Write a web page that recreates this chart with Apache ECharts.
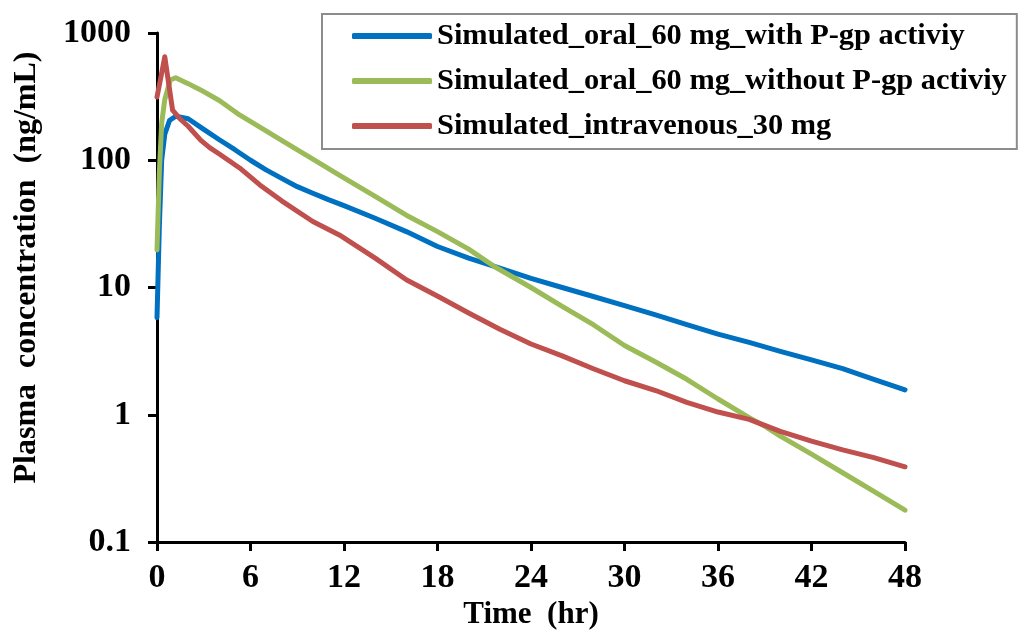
<!DOCTYPE html>
<html>
<head>
<meta charset="utf-8">
<script src="https://cdn.jsdelivr.net/npm/echarts@6/dist/echarts.min.js"></script>
<style>
  html, body { margin: 0; padding: 0; background: #fff; }
  #chart { width: 1027px; height: 632px; }
</style>
</head>
<body>
<div id="chart"></div>
<script>
// Time points (hr) and plasma concentrations (ng/mL) for each simulation
const timeOralPgp = [0, 0.15, 0.3, 0.5, 0.8, 1.2, 2, 3, 4, 5, 6, 7, 8, 9, 10, 11, 12, 14, 16, 18, 20, 22, 24, 26, 28, 30, 32, 34, 36, 38, 40, 42, 44, 46, 48];
const concOralPgp = [5.8, 30, 100, 160, 205, 222, 212, 175, 145, 121, 100, 84, 72, 62, 55, 49, 44, 35, 27.5, 21, 17, 14.2, 11.8, 10.0, 8.5, 7.2, 6.1, 5.1, 4.3, 3.7, 3.15, 2.7, 2.3, 1.9, 1.57];

const timeOralNoPgp = [0, 0.15, 0.3, 0.5, 0.85, 1.2, 2, 2.8, 4, 5.3, 6.6, 8, 10, 11.7, 14, 16, 18, 20, 21.7, 24, 26, 28, 30, 32, 34, 36, 38, 39.1, 40, 42, 44, 46, 48];
const concOralNoPgp = [19.7, 80, 196, 300, 427, 445, 400, 357, 295, 227, 182, 143, 102, 76.5, 52, 37, 27.5, 20, 14.5, 10, 7.1, 5.1, 3.5, 2.6, 1.9, 1.33, 0.95, 0.80, 0.68, 0.49, 0.35, 0.25, 0.178];

const timeIV = [0, 0.25, 0.5, 0.75, 1.0, 1.5, 2, 2.8, 3.4, 4, 5.3, 6.6, 8, 10, 11.7, 14, 16, 18.2, 20, 22, 24, 26, 28, 30, 32, 34, 36, 38, 40, 42, 44, 46, 48];
const concIV = [314, 450, 650, 400, 248, 210, 185, 144, 125, 112, 87, 64, 48, 33, 25.9, 17, 11.5, 8.3, 6.3, 4.7, 3.6, 2.9, 2.3, 1.85, 1.55, 1.25, 1.05, 0.92, 0.74, 0.62, 0.53, 0.46, 0.39];

const seriesNames = [
  'Simulated_oral_60 mg_with P-gp activiy',
  'Simulated_oral_60 mg_without P-gp activiy',
  'Simulated_intravenous_30 mg'
];
const seriesColors = ['#0070C0', '#9BBB59', '#C0504D'];

const xTicks = [0, 6, 12, 18, 24, 30, 36, 42, 48];
const yTicks = [0.1, 1, 10, 100, 1000];

const pairs = (ts, vs) => ts.map((t, i) => [t, vs[i]]);
const seriesData = [
  pairs(timeOralPgp, concOralPgp),
  pairs(timeOralNoPgp, concOralNoPgp),
  pairs(timeIV, concIV)
];

const font = '"Liberation Serif", "Times New Roman", serif';

const chart = echarts.init(document.getElementById('chart'), null, { renderer: 'canvas' });

chart.setOption({
  animation: false,
  backgroundColor: '#fff',
  grid: { left: 157, right: 122, top: 33, bottom: 90, containLabel: false, outerBoundsMode: 'none' },
  legend: {
    orient: 'vertical',
    left: 322,
    top: 14,
    padding: [7, 10, 8, 30],
    borderColor: '#8c8c8c',
    borderWidth: 2,
    backgroundColor: '#fff',
    itemWidth: 80,
    itemHeight: 6,
    itemGap: 15,
    icon: 'roundRect',
    data: seriesNames,
    textStyle: {
      fontFamily: font,
      fontWeight: 'bold',
      fontSize: 30.4,
      lineHeight: 30,
      color: '#000',
      padding: [0, 0, 0, 0]
    }
  },
  xAxis: {
    type: 'value',
    min: 0,
    max: 48,
    interval: 6,
    name: 'Time  (hr)',
    nameLocation: 'middle',
    nameGap: 56,
    nameTextStyle: { fontFamily: font, fontWeight: 'bold', fontSize: 31, color: '#000' },
    axisLine: { show: true, onZero: false, lineStyle: { color: '#000', width: 3 } },
    axisTick: { show: true, inside: false, length: 9, lineStyle: { color: '#000', width: 3 } },
    axisLabel: {
      margin: 19,
      fontFamily: font, fontWeight: 'bold', fontSize: 34, color: '#000',
      formatter: v => (xTicks.includes(v) ? String(v) : '')
    },
    splitLine: { show: false }
  },
  yAxis: {
    type: 'log',
    logBase: 10,
    min: 0.1,
    max: 1000,
    name: 'Plasma  concentration  (ng/mL)',
    nameLocation: 'middle',
    nameGap: 114,
    nameTextStyle: {
      fontFamily: font, fontWeight: 'bold', fontSize: 32, color: '#000',
      // lift the title a little above the axis centre
      padding: [0, 0, 0, 40]
    },
    axisLine: { show: true, onZero: false, lineStyle: { color: '#000', width: 3 } },
    axisTick: { show: true, inside: false, length: 9, lineStyle: { color: '#000', width: 3 } },
    axisLabel: {
      margin: 26,
      fontFamily: font, fontWeight: 'bold', fontSize: 34, color: '#000',
      formatter: v => {
        const match = yTicks.find(t => Math.abs(t - v) / t < 1e-6);
        return match !== undefined ? String(match) : '';
      }
    },
    splitLine: { show: false }
  },
  series: seriesNames.map((name, i) => ({
    name: name,
    type: 'line',
    data: seriesData[i],
    symbol: 'none',
    smooth: false,
    color: seriesColors[i],
    lineStyle: { color: seriesColors[i], width: 5, cap: 'round', join: 'round' },
    z: 3 + i
  }))
});
</script>
</body>
</html>
